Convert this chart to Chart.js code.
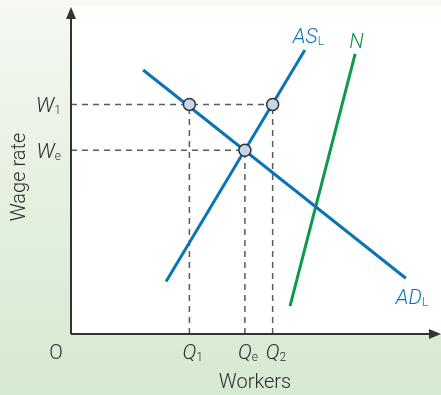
<!DOCTYPE html>
<html>
<head>
<meta charset="utf-8">
<script src="https://cdn.jsdelivr.net/npm/chart.js@4/dist/chart.umd.min.js"></script>
<style>
  html, body { margin: 0; padding: 0; }
  body {
    width: 441px; height: 395px; overflow: hidden;
    background: linear-gradient(180deg, #f5f9f2 0%, #e6f1e2 45%, #d6e9d1 100%);
  }
  #wrap { position: relative; width: 441px; height: 395px; }
</style>
</head>
<body>
<div id="wrap"><canvas id="labourChart" width="441" height="395"></canvas></div>
<script>
// Curves (workers on x, wage rate on y, both 0-100)
const adX = [19.5, 90.5];
const adY = [80.5, 17];
const asX = [25.7, 63.2];
const asY = [16, 86.6];
const nX = [59.2, 76.8];
const nY = [8.5, 85.4];

// Wage levels and quantities
const wageNames = ['1', 'e'];
const wageValues = [70, 56];
const qtyNames = ['1', 'e', '2'];
const qtyValues = [32, 47, 54.5];

const blue = '#0b74b3';
const green = '#0d9a4a';
const dashGrey = '#5a5a5a';
const FONT = '"Roboto", "Liberation Sans", Arial, sans-serif';

function pts(xs, ys) {
    return xs.map((x, i) => ({ x: x, y: ys[i] }));
}

// dashed guides: W1 -> Q2, We -> Qe, and verticals from each dot
const guides = [
    pts([0, qtyValues[2]], [wageValues[0], wageValues[0]]),
    pts([0, qtyValues[1]], [wageValues[1], wageValues[1]]),
    pts([qtyValues[0], qtyValues[0]], [0, wageValues[0]]),
    pts([qtyValues[1], qtyValues[1]], [0, wageValues[1]]),
    pts([qtyValues[2], qtyValues[2]], [0, wageValues[0]])
];

const dots = pts([qtyValues[0], qtyValues[2], qtyValues[1]], [wageValues[0], wageValues[0], wageValues[1]]);

const datasets = [];
guides.forEach(g => datasets.push({
    data: g, showLine: true, borderColor: dashGrey, borderWidth: 1.5,
    borderDash: [6, 5], pointRadius: 0, clip: false, order: 3
}));
datasets.push({ data: pts(adX, adY), showLine: true, borderColor: blue, borderWidth: 3, pointRadius: 0, clip: false, order: 2 });
datasets.push({ data: pts(asX, asY), showLine: true, borderColor: blue, borderWidth: 3, pointRadius: 0, clip: false, order: 2 });
datasets.push({ data: pts(nX, nY), showLine: true, borderColor: green, borderWidth: 3, pointRadius: 0, clip: false, order: 2 });
datasets.push({
    data: dots, showLine: false, pointRadius: 6, pointBackgroundColor: '#c6d6eb',
    pointBorderColor: '#333', pointBorderWidth: 1.5, clip: false, order: 0
});

// draw "W" + subscript style labels
function subLabel(ctx, main, sub, x, y, align, color) {
    ctx.save();
    ctx.fillStyle = color;
    ctx.textBaseline = 'alphabetic';
    ctx.font = 'italic 300 21px ' + FONT;
    const mw = ctx.measureText(main).width;
    ctx.font = '300 12px ' + FONT;
    const sw = ctx.measureText(sub).width;
    let left = x;
    if (align === 'right') left = x - mw - sw;
    if (align === 'center') left = x - mw / 2;
    ctx.textAlign = 'left';
    ctx.font = 'italic 300 21px ' + FONT;
    ctx.fillText(main, left, y);
    ctx.font = '300 12px ' + FONT;
    ctx.fillText(sub, left + mw, y + 2);
    ctx.restore();
}

const decorPlugin = {
    id: 'decor',
    beforeDraw(chart) {
        const { ctx, chartArea } = chart;
        ctx.save();
        ctx.fillStyle = '#ffffff';
        ctx.fillRect(chartArea.left, chartArea.top, chart.width - chartArea.left, chartArea.bottom - chartArea.top);
        ctx.restore();
    },
    afterDraw(chart) {
        const { ctx, chartArea, scales } = chart;
        const x0 = scales.x.getPixelForValue(0);
        const y0 = scales.y.getPixelForValue(0);
        ctx.save();
        // axes
        ctx.strokeStyle = '#333';
        ctx.fillStyle = '#333';
        ctx.lineWidth = 2;
        ctx.beginPath();
        ctx.moveTo(x0, y0);
        ctx.lineTo(x0, chartArea.top + 10);
        ctx.moveTo(x0, y0);
        ctx.lineTo(chart.width - 10, y0);
        ctx.stroke();
        ctx.beginPath();
        ctx.moveTo(x0, chartArea.top + 1);
        ctx.lineTo(x0 - 5, chartArea.top + 13);
        ctx.lineTo(x0 + 5, chartArea.top + 13);
        ctx.closePath();
        ctx.fill();
        ctx.beginPath();
        ctx.moveTo(chart.width, y0);
        ctx.lineTo(chart.width - 12, y0 - 5);
        ctx.lineTo(chart.width - 12, y0 + 5);
        ctx.closePath();
        ctx.fill();

        // tick labels
        const dark = '#2b2b2b';
        wageValues.forEach((v, i) => {
            subLabel(ctx, 'W', wageNames[i], x0 - 10, scales.y.getPixelForValue(v) + 8, 'right', dark);
        });
        qtyValues.forEach((v, i) => {
            subLabel(ctx, 'Q', qtyNames[i], scales.x.getPixelForValue(v), y0 + 25, 'center', dark);
        });
        ctx.fillStyle = dark;
        ctx.font = '300 20px ' + FONT;
        ctx.textAlign = 'center';
        ctx.fillText('O', x0 - 15, y0 + 25);

        // axis titles
        ctx.font = '300 20px ' + FONT;
        ctx.fillText('Workers', 255, y0 + 54);
        ctx.save();
        ctx.translate(25, 177);
        ctx.rotate(-Math.PI / 2);
        ctx.fillText('Wage rate', 0, 0);
        ctx.restore();

        // curve labels
        subLabel(ctx, 'AS', 'L', scales.x.getPixelForValue(asX[1]) - 12, scales.y.getPixelForValue(asY[1]) - 7, 'left', blue);
        subLabel(ctx, 'N', '', scales.x.getPixelForValue(nX[1]) - 6, scales.y.getPixelForValue(nY[1]) - 6, 'left', green);
        subLabel(ctx, 'AD', 'L', scales.x.getPixelForValue(adX[1]) - 10, scales.y.getPixelForValue(adY[1]) + 26, 'left', blue);
        ctx.restore();
    }
};

new Chart(document.getElementById('labourChart'), {
    type: 'scatter',
    data: { datasets: datasets },
    options: {
        responsive: false,
        animation: false,
        layout: { autoPadding: false, padding: { left: 71, right: 0, top: 6, bottom: 61 } },
        plugins: { legend: { display: false }, tooltip: { enabled: false } },
        scales: {
            x: { type: 'linear', min: 0, max: 100, display: false },
            y: { type: 'linear', min: 0, max: 100, display: false }
        }
    },
    plugins: [decorPlugin]
});
</script>
</body>
</html>
